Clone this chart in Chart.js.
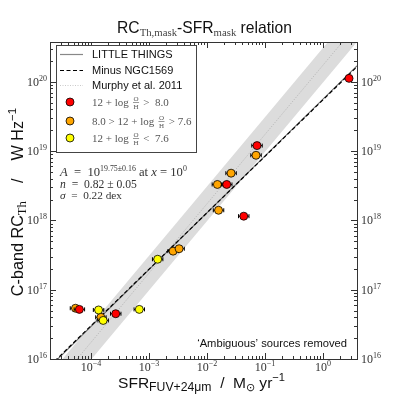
<!DOCTYPE html>
<html>
<head>
<meta charset="utf-8">
<script src="https://cdn.jsdelivr.net/npm/chart.js@4"></script>
<style>
html, body { margin: 0; padding: 0; background: #fff; }
</style>
</head>
<body>
<canvas id="c" width="399" height="399"></canvas>
<script>
// values: SFR (Msun/yr) vs thermal C-band luminosity (W/Hz)
const sfrHigh = [2.81, 0.0728, 0.0219, 0.043, 2.67e-4, 6.3e-5];
const lumHigh = [1.12e20, 1.2e19, 3.3e18, 1.15e18, 4.5e16, 5.2e16];
const errHigh = [0.04, 0.09, 0.09, 0.09, 0.09, 0.09];

const sfrMid = [0.070, 0.026, 0.0151, 0.0158, 2.6e-3, 3.3e-3, 5.4e-5, 1.48e-4];
const lumMid = [8.7e18, 4.8e18, 3.3e18, 1.4e18, 3.6e17, 3.9e17, 5.4e16, 4.0e16];
const errMid = [0.09, 0.09, 0.09, 0.09, 0.09, 0.09, 0.09, 0.09];

const sfrLow = [1.41e-3, 1.35e-4, 1.62e-4, 6.8e-4];
const lumLow = [2.75e17, 5.1e16, 3.6e16, 5.2e16];
const errLow = [0.09, 0.09, 0.09, 0.09];

// fits: [log A at x = 1, slope n]
const fitAll = [19.75, 0.82];
const fitNo1569 = [19.74, 0.815];
const fitMurphy = [20.24, 1.0];
const bandDex = 0.25;

const xLim = [Math.pow(10, -4.707), Math.pow(10, 0.586)];
const yLim = [1e16, Math.pow(10, 20.574)];
const xDecades = [-4, -3, -2, -1, 0];
const yDecades = [16, 17, 18, 19, 20];

const SANS = '"Liberation Sans", Arial, sans-serif';
const SERIF = '"Liberation Serif", "Times New Roman", serif';

function pts(xs, ys) {
  return xs.map((x, i) => ({ x: x, y: ys[i] }));
}
function fitLine(p, shift) {
  return xLim.map(x => ({ x: x, y: Math.pow(10, p[0] + (shift || 0) + p[1] * Math.log10(x)) }));
}

// text runs: {t, s (px), fam, dy, it, c}
function fontOf(p, k) {
  return (p.it ? 'italic ' : '') + (p.s * k).toFixed(2) + 'px ' + (p.fam || SERIF);
}
function measure(ctx, parts, k) {
  let w = 0;
  for (const p of parts) { ctx.font = fontOf(p, k); w += ctx.measureText(p.t).width; }
  return w;
}
function drawParts(ctx, x, y, parts, align, color, targetW, fixedK) {
  let k = fixedK || 1;
  if (targetW) k = targetW / measure(ctx, parts, 1);
  const w = measure(ctx, parts, k);
  let cx = align === 'center' ? x - w / 2 : align === 'right' ? x - w : x;
  ctx.textAlign = 'left';
  ctx.textBaseline = 'alphabetic';
  for (const p of parts) {
    ctx.font = fontOf(p, k);
    ctx.fillStyle = p.c || color || '#000';
    ctx.fillText(p.t, cx, y + (p.dy || 0) * k);
    cx += ctx.measureText(p.t).width;
  }
  return { end: cx, k: k };
}
function pow10(e, size) {
  return [
    { t: '10', s: size },
    { t: String(e).replace('-', '\u2212'), s: Math.round(size * 0.68), dy: -Math.round(size * 0.45) }
  ];
}
function drawMathRow(ctx, x, y, before, after) {
  let cx = drawParts(ctx, x, y, [{ t: before, s: 11 }], 'left', '#555').end;
  ctx.font = '7px ' + SERIF;
  const fw = ctx.measureText('O').width + 1;
  ctx.fillStyle = '#555';
  ctx.textAlign = 'center';
  ctx.fillText('O', cx + 1.5 + fw / 2, y - 5);
  ctx.fillText('H', cx + 1.5 + fw / 2, y + 3);
  ctx.strokeStyle = '#555';
  ctx.lineWidth = 0.6;
  ctx.beginPath();
  ctx.moveTo(cx + 1.5, y - 3.5);
  ctx.lineTo(cx + 1.5 + fw, y - 3.5);
  ctx.stroke();
  drawParts(ctx, cx + fw + 3, y, [{ t: after, s: 11 }], 'left', '#555');
}

const decor = {
  id: 'decor',
  beforeDatasetDraw(chart, args) {
    const ds = chart.data.datasets[args.index];
    if (!ds.xErr) return;
    const ctx = chart.ctx, xs = chart.scales.x, ys = chart.scales.y;
    ctx.save();
    ctx.strokeStyle = '#000';
    ctx.lineWidth = 1;
    ds.data.forEach((p, i) => {
      const e = Math.pow(10, ds.xErr[i]);
      const x0 = xs.getPixelForValue(p.x / e), x1 = xs.getPixelForValue(p.x * e);
      const y = ys.getPixelForValue(p.y);
      ctx.beginPath();
      ctx.moveTo(x0, y); ctx.lineTo(x1, y);
      ctx.moveTo(x0, y - 2); ctx.lineTo(x0, y + 2);
      ctx.moveTo(x1, y - 2); ctx.lineTo(x1, y + 2);
      ctx.stroke();
    });
    ctx.restore();
  },
  afterDraw(chart) {
    const ctx = chart.ctx, a = chart.chartArea;
    const xs = chart.scales.x, ys = chart.scales.y;
    ctx.save();

    // frame
    ctx.strokeStyle = '#333';
    ctx.lineWidth = 1;
    ctx.strokeRect(Math.round(a.left) + 0.5, Math.round(a.top) + 0.5, Math.round(a.right - a.left), Math.round(a.bottom - a.top));

    // inward ticks on all four sides
    ctx.beginPath();
    for (let e = -5; e <= 1; e++) {
      for (let k = 1; k < 10; k++) {
        const v = k * Math.pow(10, e);
        if (v < xLim[0] || v > xLim[1]) continue;
        const px = Math.round(xs.getPixelForValue(v)) + 0.5, len = k === 1 ? 6 : 3;
        ctx.moveTo(px, a.bottom); ctx.lineTo(px, a.bottom - len);
        ctx.moveTo(px, a.top); ctx.lineTo(px, a.top + len);
      }
    }
    for (let e = 16; e <= 20; e++) {
      for (let k = 1; k < 10; k++) {
        const v = k * Math.pow(10, e);
        if (v < yLim[0] || v > yLim[1]) continue;
        const py = Math.round(ys.getPixelForValue(v)) + 0.5, len = k === 1 ? 6 : 3;
        ctx.moveTo(a.left, py); ctx.lineTo(a.left + len, py);
        ctx.moveTo(a.right, py); ctx.lineTo(a.right - len, py);
      }
    }
    ctx.stroke();

    // tick labels
    xDecades.forEach(e => {
      drawParts(ctx, xs.getPixelForValue(Math.pow(10, e)), a.bottom + 12, pow10(e, 12), 'center', '#333');
    });
    yDecades.forEach(e => {
      const py = ys.getPixelForValue(Math.pow(10, e));
      drawParts(ctx, a.left - 3, py + 4, pow10(e, 12), 'right', '#333');
      drawParts(ctx, a.right + 4, py + 4, pow10(e, 12), 'left', '#333');
    });

    // title
    drawParts(ctx, 204.5, 33, [
      { t: 'RC', s: 16, fam: SANS },
      { t: 'Th,mask', s: 11, dy: 3, c: '#444' },
      { t: '-SFR', s: 16, fam: SANS },
      { t: 'mask', s: 11, dy: 3, c: '#444' },
      { t: ' relation', s: 16, fam: SANS }
    ], 'center', '#111', 175);

    // x axis title
    const kx = drawParts(ctx, 201.5, 388, [
      { t: 'SFR', s: 14, fam: SANS },
      { t: 'FUV+24\u03bcm', s: 11, fam: SANS, dy: 3 },
      { t: '  /  M', s: 14, fam: SANS },
      { t: '\u2299', s: 10, dy: 3 },
      { t: ' yr', s: 14, fam: SANS },
      { t: '\u22121', s: 10, fam: SANS, dy: -6 }
    ], 'center', '#111', 167).k;

    // y axis title, close to the x title's scale
    ctx.save();
    ctx.translate(23, 202);
    ctx.rotate(-Math.PI / 2);
    drawParts(ctx, 0, 0, [
      { t: 'C-band RC', s: 14, fam: SANS },
      { t: 'Th', s: 11, dy: 3 },
      { t: '    /    W Hz', s: 14, fam: SANS },
      { t: '\u22121', s: 10, fam: SANS, dy: -6 }
    ], 'center', '#111', 0, kx * 1.04);
    ctx.restore();

    // fit annotation
    drawParts(ctx, 60, 176, [
      { t: 'A', s: 12, it: true }, { t: '  =  10', s: 12 }, { t: '19.75\u00b10.16', s: 7.5, dy: -5 },
      { t: ' at ', s: 12 }, { t: 'x', s: 12, it: true }, { t: ' = 10', s: 12 }, { t: '0', s: 7.5, dy: -5 }
    ], 'left', '#333', 127);
    drawParts(ctx, 60, 188, [{ t: 'n', s: 12, it: true }, { t: '  =  0.82 \u00b1 0.05', s: 12 }], 'left', '#333', 77);
    drawParts(ctx, 60, 199, [{ t: '\u03c3', s: 12, it: true }, { t: '  =  0.22 dex', s: 12 }], 'left', '#333', 62);

    drawParts(ctx, 347, 347, [{ t: '\u2018Ambiguous\u2019 sources removed', s: 11, fam: SANS }], 'right', '#111', 150);

    // legend
    ctx.fillStyle = '#fff';
    ctx.fillRect(56.5, 45.5, 140, 107);
    ctx.strokeStyle = '#444';
    ctx.lineWidth = 1;
    ctx.strokeRect(56.5, 45.5, 140, 107);
    const rows = [54, 70, 85, 102, 121, 138];
    const lineSty = [['#888', [], 1.2], ['#000', [4, 2.5], 1.2], ['#bbb', [1, 1.5], 0.8]];
    const lineTxt = ['LITTLE THINGS', 'Minus NGC1569', 'Murphy et al. 2011'];
    for (let i = 0; i < 3; i++) {
      ctx.strokeStyle = lineSty[i][0];
      ctx.setLineDash(lineSty[i][1]);
      ctx.lineWidth = lineSty[i][2];
      ctx.beginPath();
      ctx.moveTo(60, rows[i] + 0.5); ctx.lineTo(83, rows[i] + 0.5);
      ctx.stroke();
      ctx.setLineDash([]);
      drawParts(ctx, 92, rows[i] + 4, [{ t: lineTxt[i], s: 11, fam: SANS }], 'left', '#111');
    }
    const mk = ['#ff0000', '#ffa500', '#ffff00'];
    const mathTxt = [['12 + log', '>  8.0'], ['8.0 > 12 + log', '> 7.6'], ['12 + log', '<  7.6']];
    for (let i = 0; i < 3; i++) {
      const y = rows[i + 3];
      ctx.fillStyle = mk[i];
      ctx.strokeStyle = '#000';
      ctx.lineWidth = 0.8;
      ctx.beginPath();
      ctx.arc(70, y, 4, 0, Math.PI * 2);
      ctx.fill(); ctx.stroke();
      drawMathRow(ctx, 92, y + 4, mathTxt[i][0] + ' ', ' ' + mathTxt[i][1]);
    }
    ctx.restore();
  }
};

const logAxis = (pos, lim, size) => ({
  type: 'logarithmic',
  position: pos,
  min: lim[0],
  max: lim[1],
  grid: { display: false, drawTicks: false },
  border: { display: false },
  ticks: { display: false },
  afterFit(s) {
    if (pos === 'left' || pos === 'right') s.width = size; else s.height = size;
  }
});

new Chart(document.getElementById('c'), {
  type: 'scatter',
  data: {
    datasets: [
      { label: 'Z low', data: pts(sfrLow, lumLow), xErr: errLow, backgroundColor: '#ffff00', borderColor: '#000', borderWidth: 0.8, pointRadius: 4, order: 0 },
      { label: 'Z high', data: pts(sfrHigh, lumHigh), xErr: errHigh, backgroundColor: '#ff0000', borderColor: '#000', borderWidth: 0.8, pointRadius: 4, order: 1 },
      { label: 'Z mid', data: pts(sfrMid, lumMid), xErr: errMid, backgroundColor: '#ffa500', borderColor: '#000', borderWidth: 0.8, pointRadius: 4, order: 2 },
      { label: 'Minus NGC1569', data: fitLine(fitNo1569), showLine: true, pointRadius: 0, borderColor: '#000', borderWidth: 1.2, borderDash: [4, 2.5], order: 3 },
      { label: 'LITTLE THINGS', data: fitLine(fitAll), showLine: true, pointRadius: 0, borderColor: '#666', borderWidth: 1.1, order: 4 },
      { label: 'Murphy et al. 2011', data: fitLine(fitMurphy), showLine: true, pointRadius: 0, borderColor: '#aaa', borderWidth: 0.8, borderDash: [1, 1.5], order: 5 },
      { label: 'band hi', data: fitLine(fitMurphy, bandDex), showLine: true, pointRadius: 0, borderWidth: 0, backgroundColor: '#dcdcdc', fill: '+1', order: 6 },
      { label: 'band lo', data: fitLine(fitMurphy, -bandDex), showLine: true, pointRadius: 0, borderWidth: 0, order: 7 }
    ]
  },
  options: {
    responsive: false,
    animation: false,
    layout: { padding: 0 },
    plugins: { legend: { display: false }, tooltip: { enabled: false }, title: { display: false } },
    scales: {
      x: logAxis('bottom', xLim, 40),
      x2: logAxis('top', xLim, 42),
      y: logAxis('left', yLim, 50),
      y2: logAxis('right', yLim, 42)
    }
  },
  plugins: [decor]
});
</script>
</body>
</html>
